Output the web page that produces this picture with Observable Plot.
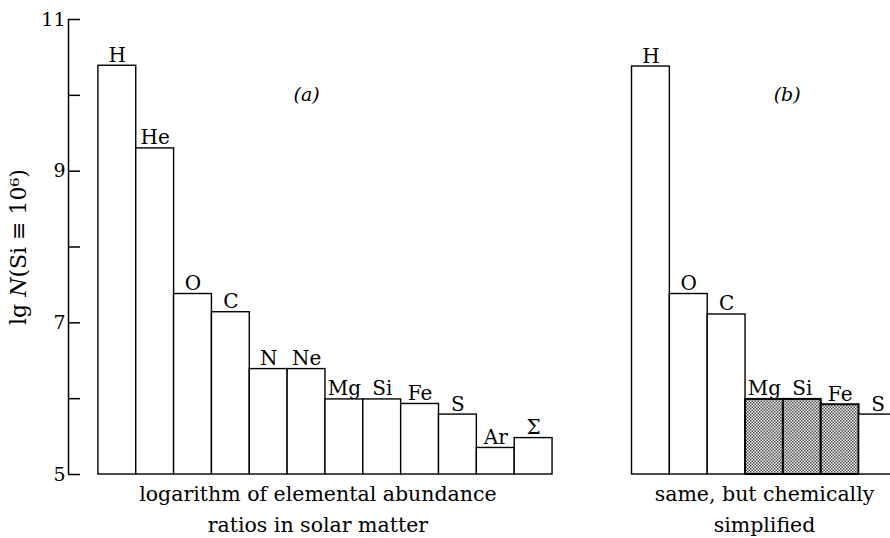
<!DOCTYPE html>
<html><head><meta charset="utf-8">
<script src="https://cdn.jsdelivr.net/npm/d3@7"></script>
<script src="https://cdn.jsdelivr.net/npm/@observablehq/plot@0.6"></script>
<style>
body{margin:0;background:#fff;overflow:hidden}
#chart svg{overflow:hidden;display:block}
</style>
</head><body><div id="chart"></div>
<script>
// ---- data ----
const elementsA = ["H","He","O","C","N","Ne","Mg","Si","Fe","S","Ar","Σ"];
const valuesA   = [10.39, 9.30, 7.38, 7.14, 6.39, 6.39, 5.99, 5.99, 5.93, 5.79, 5.35, 5.48];
const elementsB = ["H","O","C","Mg","Si","Fe","S"];
const valuesB   = [10.38, 7.38, 7.11, 5.99, 5.99, 5.92, 5.79];
const shadedB   = ["Mg","Si","Fe"];
const majorTicks = [5, 7, 9, 11];
const minorTicks = [6, 8, 10];
const panelLabels = ["(a)", "(b)"];
const captions = ["logarithm of elemental abundance\nratios in solar matter", "same, but chemically\nsimplified"];
const yLabel = "lg N(Si ≡ 10⁶)";

// ---- layout helpers ----
const gap = 2.1;                       // empty bar slots between panels
const offsetB = elementsA.length + gap;
const bars = [
  ...elementsA.map((el, k) => ({panel: "a", el, i: k, v: valuesA[k], shaded: false})),
  ...elementsB.map((el, k) => ({panel: "b", el, i: offsetB + k, v: valuesB[k], shaded: shadedB.includes(el)}))
];
const base = majorTicks[0];
const xDomain = [-0.79, 20.93];
const panels = [
  {label: panelLabels[0], caption: captions[0], xl: 5.5, xc: elementsA.length / 2 - 0.2},
  {label: panelLabels[1], caption: captions[1], xl: offsetB + 4.1, xc: offsetB + 3.5}
];
const font = "DejaVu Serif, serif";

const chart = Plot.plot({
  width: 890, height: 538,
  marginLeft: 68, marginRight: 0, marginTop: 19, marginBottom: 64,
  style: {fontFamily: font, fontSize: "19px", background: "white", color: "black"},
  x: {domain: xDomain, axis: null},
  y: {domain: [base, 11], axis: null},
  marks: [
    Plot.ruleX([xDomain[0]], {y1: base, y2: 11, stroke: "black", strokeWidth: 1.5}),
    Plot.axisY(majorTicks, {tickSize: 0, tickPadding: 3, tickFormat: "d", label: null, fontSize: 19, fontFamily: font}),
    Plot.axisY([...majorTicks, ...minorTicks], {tickSize: 12, dx: 12, tickFormat: () => "", label: null, strokeWidth: 1.5}),
    Plot.rect(bars, {
      x1: "i", x2: d => d.i + 1, y1: base, y2: "v",
      fill: d => d.shaded ? "url(#stipple)" : "white",
      stroke: "black",
      strokeWidth: d => d.shaded ? 2 : 1.4
    }),
    Plot.text(bars, {
      x: d => d.i + 0.5, y: "v", text: "el",
      lineAnchor: "bottom", dy: -4, fontSize: 20, fontFamily: font
    }),
    Plot.text(panels, {
      x: "xl", y: 10, text: "label", fontStyle: "italic", fontSize: 19, fontFamily: font
    }),
    Plot.text(panels, {
      x: "xc", y: base, text: "caption", lineAnchor: "top", dy: 5,
      lineHeight: 1.5, fontSize: 20.5, fontFamily: font
    }),
    Plot.text([yLabel], {
      frameAnchor: "left", dx: -50, rotate: -90, textAnchor: "middle", text: d => d,
      fontSize: 22, fontFamily: font
    })
  ]
});

// stipple pattern for the simplified (shaded) bars
const svgNS = "http://www.w3.org/2000/svg";
const defs = document.createElementNS(svgNS, "defs");
defs.innerHTML = `<pattern id="stipple" width="3" height="3" patternUnits="userSpaceOnUse">
  <rect width="3" height="3" fill="white"/>
  <rect x="0" y="0" width="1.5" height="1.5" fill="#444"/>
  <rect x="1.5" y="1.5" width="1.5" height="1.5" fill="#444"/>
</pattern>`;
chart.insertBefore(defs, chart.firstChild);

// italic N in the y label
chart.querySelectorAll("text").forEach(t => {
  if (t.textContent === yLabel) {
    t.textContent = "";
    const parts = [["lg ", null], ["N", "italic"], ["(Si ≡ 10⁶)", null]];
    for (const [s, style] of parts) {
      const ts = document.createElementNS(svgNS, "tspan");
      ts.textContent = s;
      if (style) ts.setAttribute("font-style", style);
      t.appendChild(ts);
    }
  }
});

document.getElementById("chart").appendChild(chart);
</script>
</body></html>
